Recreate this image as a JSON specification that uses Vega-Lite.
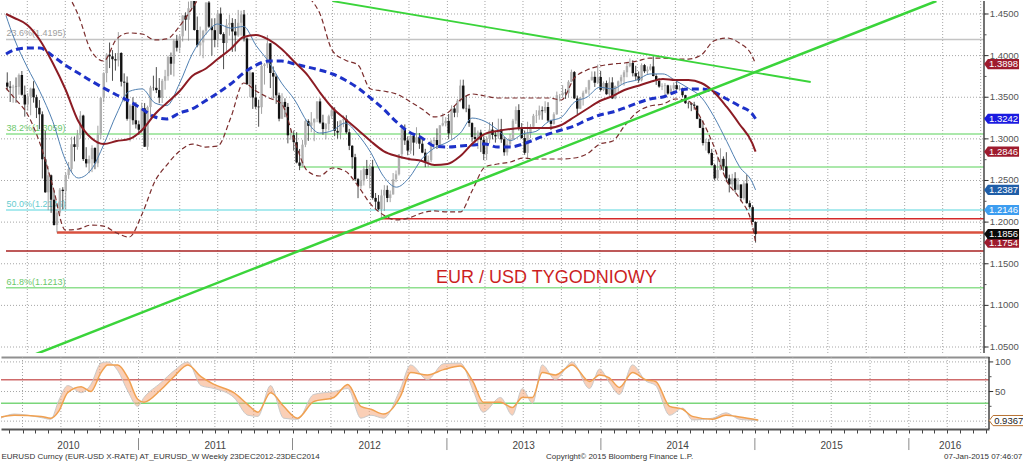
{
"$schema":"https://vega.github.io/schema/vega-lite/v6.json",
"padding":0,"background":"white","spacing":2,
"config":{"view":{"stroke":null},"font":"Liberation Sans"},
"datasets":{
"ygrid":[{"v":1.05,"t":"1.0500"},{"v":1.1,"t":"1.1000"},{"v":1.15,"t":"1.1500"},{"v":1.2,"t":"1.2000"},{"v":1.25,"t":"1.2500"},{"v":1.3,"t":"1.3000"},{"v":1.35,"t":"1.3500"},{"v":1.4,"t":"1.4000"},{"v":1.45,"t":"1.4500"}],
"yminor":[{"v":1.075},{"v":1.125},{"v":1.175},{"v":1.225},{"v":1.275},{"v":1.325},{"v":1.375},{"v":1.425}],
"xgrid":[{"d":"2010-04-01"},{"d":"2010-07-01"},{"d":"2010-10-01"},{"d":"2011-01-01"},{"d":"2011-04-01"},{"d":"2011-07-01"},{"d":"2011-10-01"},{"d":"2012-01-01"},{"d":"2012-04-01"},{"d":"2012-07-01"},{"d":"2012-10-01"},{"d":"2013-01-01"},{"d":"2013-04-01"},{"d":"2013-07-01"},{"d":"2013-10-01"},{"d":"2014-01-01"},{"d":"2014-04-01"},{"d":"2014-07-01"},{"d":"2014-10-01"},{"d":"2015-01-01"},{"d":"2015-04-01"},{"d":"2015-07-01"},{"d":"2015-10-01"},{"d":"2016-01-01"},{"d":"2016-04-01"},{"d":"2016-07-01"}],
"axisEnd":[{"d":"2016-07-09"}],
"sgrid":[{"v":0},{"v":50},{"v":100}],
"slab":[{"v":50,"t":"50"},{"v":100,"t":"100"}],
"sminor":[{"v":25},{"v":75}],
"levels":[
{"lv":"fib236","p":1.4195,"d":"2010-02-09","d2":"2016-07-09"},
{"lv":"fib382","p":1.3059,"d":"2010-02-09","d2":"2016-07-09"},
{"lv":"g1266","p":1.2662,"d":"2012-01-13","d2":"2016-07-09"},
{"lv":"fib500","p":1.2146,"d":"2010-02-09","d2":"2016-07-09"},
{"lv":"low2012","p":1.2042,"d":"2012-07-27","d2":"2016-07-09"},
{"lv":"low2010","p":1.1876,"d":"2010-06-11","d2":"2016-07-09"},
{"lv":"r1165","p":1.1653,"d":"2010-02-09","d2":"2016-07-09"},
{"lv":"fib618","p":1.1213,"d":"2010-02-09","d2":"2016-07-09"}],
"fibtxt":[
{"t":"23.6%(1.4195)","p":1.4195,"lv":"fib236","d":"2010-02-10"},
{"t":"38.2%(1.3059)","p":1.3059,"lv":"fib382","d":"2010-02-10"},
{"t":"50.0%(1.2146)","p":1.2146,"lv":"fib500","d":"2010-02-10"},
{"t":"61.8%(1.1213)","p":1.1213,"lv":"fib618","d":"2010-02-10"}],
"px":[
{"d":"2010-02-12","o":1.3676,"h":1.3799,"l":1.3580,"c":1.3627},
{"d":"2010-02-19","o":1.3627,"h":1.3694,"l":1.3443,"c":1.3617},
{"d":"2010-02-26","o":1.3617,"h":1.3650,"l":1.3434,"c":1.3627},
{"d":"2010-03-05","o":1.3627,"h":1.3738,"l":1.3434,"c":1.3625},
{"d":"2010-03-12","o":1.3625,"h":1.3785,"l":1.3530,"c":1.3767},
{"d":"2010-03-19","o":1.3767,"h":1.3815,"l":1.3520,"c":1.3530},
{"d":"2010-03-26","o":1.3530,"h":1.3640,"l":1.3267,"c":1.3413},
{"d":"2010-04-02","o":1.3413,"h":1.3550,"l":1.3338,"c":1.3509},
{"d":"2010-04-09","o":1.3509,"h":1.3615,"l":1.3283,"c":1.3605},
{"d":"2010-04-16","o":1.3605,"h":1.3693,"l":1.3435,"c":1.3500},
{"d":"2010-04-23","o":1.3500,"h":1.3530,"l":1.3250,"c":1.3373},
{"d":"2010-04-30","o":1.3373,"h":1.3466,"l":1.3116,"c":1.3295},
{"d":"2010-05-07","o":1.3295,"h":1.3330,"l":1.2524,"c":1.2755},
{"d":"2010-05-14","o":1.2755,"h":1.3094,"l":1.2352,"c":1.2358},
{"d":"2010-05-21","o":1.2358,"h":1.2674,"l":1.2143,"c":1.2563},
{"d":"2010-05-28","o":1.2563,"h":1.2572,"l":1.2111,"c":1.2269},
{"d":"2010-06-04","o":1.2269,"h":1.2383,"l":1.1959,"c":1.1965},
{"d":"2010-06-11","o":1.1965,"h":1.2153,"l":1.1876,"c":1.2114},
{"d":"2010-06-18","o":1.2114,"h":1.2410,"l":1.2089,"c":1.2389},
{"d":"2010-06-25","o":1.2389,"h":1.2420,"l":1.2152,"c":1.2373},
{"d":"2010-07-02","o":1.2373,"h":1.2594,"l":1.2150,"c":1.2565},
{"d":"2010-07-09","o":1.2565,"h":1.2722,"l":1.2520,"c":1.2639},
{"d":"2010-07-16","o":1.2639,"h":1.3026,"l":1.2596,"c":1.2935},
{"d":"2010-07-23","o":1.2935,"h":1.3028,"l":1.2730,"c":1.2903},
{"d":"2010-07-30","o":1.2903,"h":1.3108,"l":1.2870,"c":1.3045},
{"d":"2010-08-06","o":1.3045,"h":1.3333,"l":1.3002,"c":1.3280},
{"d":"2010-08-13","o":1.3280,"h":1.3290,"l":1.2734,"c":1.2757},
{"d":"2010-08-20","o":1.2757,"h":1.2900,"l":1.2658,"c":1.2705},
{"d":"2010-08-27","o":1.2705,"h":1.2800,"l":1.2588,"c":1.2757},
{"d":"2010-09-03","o":1.2757,"h":1.2923,"l":1.2600,"c":1.2890},
{"d":"2010-09-10","o":1.2890,"h":1.2900,"l":1.2635,"c":1.2707},
{"d":"2010-09-17","o":1.2707,"h":1.3158,"l":1.2660,"c":1.3052},
{"d":"2010-09-24","o":1.3052,"h":1.3500,"l":1.3000,"c":1.3493},
{"d":"2010-10-01","o":1.3493,"h":1.3800,"l":1.3440,"c":1.3790},
{"d":"2010-10-08","o":1.3790,"h":1.4030,"l":1.3680,"c":1.4012},
{"d":"2010-10-15","o":1.4012,"h":1.4157,"l":1.3850,"c":1.3991},
{"d":"2010-10-22","o":1.3991,"h":1.4066,"l":1.3697,"c":1.3957},
{"d":"2010-10-29","o":1.3957,"h":1.4030,"l":1.3820,"c":1.3942},
{"d":"2010-11-05","o":1.3942,"h":1.4282,"l":1.3870,"c":1.4032},
{"d":"2010-11-12","o":1.4032,"h":1.4040,"l":1.3630,"c":1.3687},
{"d":"2010-11-19","o":1.3687,"h":1.3787,"l":1.3449,"c":1.3675},
{"d":"2010-11-26","o":1.3675,"h":1.3750,"l":1.3219,"c":1.3241},
{"d":"2010-12-03","o":1.3241,"h":1.3415,"l":1.2969,"c":1.3399},
{"d":"2010-12-10","o":1.3399,"h":1.3500,"l":1.3170,"c":1.3224},
{"d":"2010-12-17","o":1.3224,"h":1.3440,"l":1.3124,"c":1.3175},
{"d":"2010-12-24","o":1.3175,"h":1.3220,"l":1.3050,"c":1.3110},
{"d":"2010-12-31","o":1.3110,"h":1.3435,"l":1.3066,"c":1.3367},
{"d":"2011-01-07","o":1.3367,"h":1.3430,"l":1.2903,"c":1.2906},
{"d":"2011-01-14","o":1.2906,"h":1.3399,"l":1.2867,"c":1.3382},
{"d":"2011-01-21","o":1.3382,"h":1.3638,"l":1.3255,"c":1.3615},
{"d":"2011-01-28","o":1.3615,"h":1.3759,"l":1.3580,"c":1.3613},
{"d":"2011-02-04","o":1.3613,"h":1.3862,"l":1.3550,"c":1.3586},
{"d":"2011-02-11","o":1.3586,"h":1.3730,"l":1.3428,"c":1.3495},
{"d":"2011-02-18","o":1.3495,"h":1.3720,"l":1.3431,"c":1.3697},
{"d":"2011-02-25","o":1.3697,"h":1.3829,"l":1.3590,"c":1.3753},
{"d":"2011-03-04","o":1.3753,"h":1.4000,"l":1.3700,"c":1.3983},
{"d":"2011-03-11","o":1.3983,"h":1.4037,"l":1.3770,"c":1.3903},
{"d":"2011-03-18","o":1.3903,"h":1.4194,"l":1.3750,"c":1.4180},
{"d":"2011-03-25","o":1.4180,"h":1.4249,"l":1.4050,"c":1.4095},
{"d":"2011-04-01","o":1.4095,"h":1.4250,"l":1.4036,"c":1.4232},
{"d":"2011-04-08","o":1.4232,"h":1.4486,"l":1.4170,"c":1.4482},
{"d":"2011-04-15","o":1.4482,"h":1.4520,"l":1.4300,"c":1.4431},
{"d":"2011-04-22","o":1.4431,"h":1.4649,"l":1.4180,"c":1.4569},
{"d":"2011-04-29","o":1.4569,"h":1.4880,"l":1.4540,"c":1.4807},
{"d":"2011-05-06","o":1.4807,"h":1.4940,"l":1.4300,"c":1.4308},
{"d":"2011-05-13","o":1.4308,"h":1.4470,"l":1.4100,"c":1.4123},
{"d":"2011-05-20","o":1.4123,"h":1.4349,"l":1.4000,"c":1.4159},
{"d":"2011-05-27","o":1.4159,"h":1.4310,"l":1.3968,"c":1.4298},
{"d":"2011-06-03","o":1.4298,"h":1.4640,"l":1.4250,"c":1.4638},
{"d":"2011-06-10","o":1.4638,"h":1.4700,"l":1.4331,"c":1.4347},
{"d":"2011-06-17","o":1.4347,"h":1.4447,"l":1.4000,"c":1.4306},
{"d":"2011-06-24","o":1.4306,"h":1.4449,"l":1.4100,"c":1.4189},
{"d":"2011-07-01","o":1.4189,"h":1.4540,"l":1.4100,"c":1.4505},
{"d":"2011-07-08","o":1.4505,"h":1.4578,"l":1.4250,"c":1.4259},
{"d":"2011-07-15","o":1.4259,"h":1.4280,"l":1.3837,"c":1.4151},
{"d":"2011-07-22","o":1.4151,"h":1.4440,"l":1.4030,"c":1.4370},
{"d":"2011-07-29","o":1.4370,"h":1.4490,"l":1.4240,"c":1.4393},
{"d":"2011-08-05","o":1.4393,"h":1.4450,"l":1.4045,"c":1.4290},
{"d":"2011-08-12","o":1.4290,"h":1.4440,"l":1.4050,"c":1.4243},
{"d":"2011-08-19","o":1.4243,"h":1.4549,"l":1.4225,"c":1.4395},
{"d":"2011-08-26","o":1.4395,"h":1.4540,"l":1.4240,"c":1.4495},
{"d":"2011-09-02","o":1.4495,"h":1.4548,"l":1.4170,"c":1.4206},
{"d":"2011-09-09","o":1.4206,"h":1.4220,"l":1.3653,"c":1.3654},
{"d":"2011-09-16","o":1.3654,"h":1.3850,"l":1.3500,"c":1.3797},
{"d":"2011-09-23","o":1.3797,"h":1.3800,"l":1.3360,"c":1.3497},
{"d":"2011-09-30","o":1.3497,"h":1.3650,"l":1.3360,"c":1.3387},
{"d":"2011-10-07","o":1.3387,"h":1.3470,"l":1.3146,"c":1.3380},
{"d":"2011-10-14","o":1.3380,"h":1.3915,"l":1.3300,"c":1.3876},
{"d":"2011-10-21","o":1.3876,"h":1.3910,"l":1.3652,"c":1.3895},
{"d":"2011-10-28","o":1.3895,"h":1.4247,"l":1.3850,"c":1.4148},
{"d":"2011-11-04","o":1.4148,"h":1.4150,"l":1.3610,"c":1.3791},
{"d":"2011-11-11","o":1.3791,"h":1.3870,"l":1.3485,"c":1.3748},
{"d":"2011-11-18","o":1.3748,"h":1.3780,"l":1.3420,"c":1.3523},
{"d":"2011-11-25","o":1.3523,"h":1.3555,"l":1.3211,"c":1.3242},
{"d":"2011-12-02","o":1.3242,"h":1.3548,"l":1.3240,"c":1.3444},
{"d":"2011-12-09","o":1.3444,"h":1.3487,"l":1.3260,"c":1.3384},
{"d":"2011-12-16","o":1.3384,"h":1.3430,"l":1.2946,"c":1.3043},
{"d":"2011-12-23","o":1.3043,"h":1.3120,"l":1.2990,"c":1.3045},
{"d":"2011-12-30","o":1.3045,"h":1.3100,"l":1.2858,"c":1.2961},
{"d":"2012-01-06","o":1.2961,"h":1.3080,"l":1.2705,"c":1.2716},
{"d":"2012-01-13","o":1.2716,"h":1.2879,"l":1.2624,"c":1.2677},
{"d":"2012-01-20","o":1.2677,"h":1.2988,"l":1.2664,"c":1.2930},
{"d":"2012-01-27","o":1.2930,"h":1.3234,"l":1.2901,"c":1.3214},
{"d":"2012-02-03","o":1.3214,"h":1.3235,"l":1.2976,"c":1.3157},
{"d":"2012-02-10","o":1.3157,"h":1.3322,"l":1.3080,"c":1.3197},
{"d":"2012-02-17","o":1.3197,"h":1.3245,"l":1.2972,"c":1.3242},
{"d":"2012-02-24","o":1.3242,"h":1.3450,"l":1.3200,"c":1.3450},
{"d":"2012-03-02","o":1.3450,"h":1.3486,"l":1.3180,"c":1.3196},
{"d":"2012-03-09","o":1.3196,"h":1.3290,"l":1.3050,"c":1.3118},
{"d":"2012-03-16","o":1.3118,"h":1.3190,"l":1.2995,"c":1.3180},
{"d":"2012-03-23","o":1.3180,"h":1.3290,"l":1.3100,"c":1.3272},
{"d":"2012-03-30","o":1.3272,"h":1.3385,"l":1.3240,"c":1.3343},
{"d":"2012-04-06","o":1.3343,"h":1.3380,"l":1.3033,"c":1.3096},
{"d":"2012-04-13","o":1.3096,"h":1.3212,"l":1.3003,"c":1.3075},
{"d":"2012-04-20","o":1.3075,"h":1.3220,"l":1.3000,"c":1.3222},
{"d":"2012-04-27","o":1.3222,"h":1.3282,"l":1.3140,"c":1.3237},
{"d":"2012-05-04","o":1.3237,"h":1.3284,"l":1.3060,"c":1.3079},
{"d":"2012-05-11","o":1.3079,"h":1.3120,"l":1.2865,"c":1.2917},
{"d":"2012-05-18","o":1.2917,"h":1.2925,"l":1.2640,"c":1.2780},
{"d":"2012-05-25","o":1.2780,"h":1.2820,"l":1.2495,"c":1.2516},
{"d":"2012-06-01","o":1.2516,"h":1.2530,"l":1.2288,"c":1.2433},
{"d":"2012-06-08","o":1.2433,"h":1.2624,"l":1.2400,"c":1.2493},
{"d":"2012-06-15","o":1.2493,"h":1.2672,"l":1.2440,"c":1.2639},
{"d":"2012-06-22","o":1.2639,"h":1.2747,"l":1.2520,"c":1.2565},
{"d":"2012-06-29","o":1.2565,"h":1.2692,"l":1.2406,"c":1.2667},
{"d":"2012-07-06","o":1.2667,"h":1.2748,"l":1.2270,"c":1.2291},
{"d":"2012-07-13","o":1.2291,"h":1.2350,"l":1.2160,"c":1.2246},
{"d":"2012-07-20","o":1.2246,"h":1.2325,"l":1.2145,"c":1.2156},
{"d":"2012-07-27","o":1.2156,"h":1.2390,"l":1.2042,"c":1.2320},
{"d":"2012-08-03","o":1.2320,"h":1.2444,"l":1.2133,"c":1.2387},
{"d":"2012-08-10","o":1.2387,"h":1.2440,"l":1.2240,"c":1.2290},
{"d":"2012-08-17","o":1.2290,"h":1.2380,"l":1.2240,"c":1.2333},
{"d":"2012-08-24","o":1.2333,"h":1.2590,"l":1.2330,"c":1.2515},
{"d":"2012-08-31","o":1.2515,"h":1.2620,"l":1.2480,"c":1.2575},
{"d":"2012-09-07","o":1.2575,"h":1.2817,"l":1.2560,"c":1.2816},
{"d":"2012-09-14","o":1.2816,"h":1.3170,"l":1.2760,"c":1.3125},
{"d":"2012-09-21","o":1.3125,"h":1.3173,"l":1.2927,"c":1.2981},
{"d":"2012-09-28","o":1.2981,"h":1.3030,"l":1.2803,"c":1.2859},
{"d":"2012-10-05","o":1.2859,"h":1.3057,"l":1.2820,"c":1.3036},
{"d":"2012-10-12","o":1.3036,"h":1.3060,"l":1.2800,"c":1.2955},
{"d":"2012-10-19","o":1.2955,"h":1.3140,"l":1.2940,"c":1.3020},
{"d":"2012-10-26","o":1.3020,"h":1.3070,"l":1.2880,"c":1.2942},
{"d":"2012-11-02","o":1.2942,"h":1.3000,"l":1.2828,"c":1.2835},
{"d":"2012-11-09","o":1.2835,"h":1.2880,"l":1.2660,"c":1.2711},
{"d":"2012-11-16","o":1.2711,"h":1.2800,"l":1.2661,"c":1.2744},
{"d":"2012-11-23","o":1.2744,"h":1.2990,"l":1.2720,"c":1.2973},
{"d":"2012-11-30","o":1.2973,"h":1.3020,"l":1.2880,"c":1.2986},
{"d":"2012-12-07","o":1.2986,"h":1.3126,"l":1.2878,"c":1.2925},
{"d":"2012-12-14","o":1.2925,"h":1.3166,"l":1.2920,"c":1.3162},
{"d":"2012-12-21","o":1.3162,"h":1.3308,"l":1.3150,"c":1.3188},
{"d":"2012-12-28","o":1.3188,"h":1.3260,"l":1.3150,"c":1.3216},
{"d":"2013-01-04","o":1.3216,"h":1.3299,"l":1.3000,"c":1.3066},
{"d":"2013-01-11","o":1.3066,"h":1.3403,"l":1.3000,"c":1.3365},
{"d":"2013-01-18","o":1.3365,"h":1.3403,"l":1.3260,"c":1.3314},
{"d":"2013-01-25","o":1.3314,"h":1.3480,"l":1.3260,"c":1.3458},
{"d":"2013-02-01","o":1.3458,"h":1.3711,"l":1.3440,"c":1.3640},
{"d":"2013-02-08","o":1.3640,"h":1.3711,"l":1.3355,"c":1.3365},
{"d":"2013-02-15","o":1.3365,"h":1.3520,"l":1.3320,"c":1.3363},
{"d":"2013-02-22","o":1.3363,"h":1.3410,"l":1.3145,"c":1.3190},
{"d":"2013-03-01","o":1.3190,"h":1.3200,"l":1.2965,"c":1.3022},
{"d":"2013-03-08","o":1.3022,"h":1.3140,"l":1.2955,"c":1.2999},
{"d":"2013-03-15","o":1.2999,"h":1.3100,"l":1.2880,"c":1.3076},
{"d":"2013-03-22","o":1.3076,"h":1.3110,"l":1.2841,"c":1.2988},
{"d":"2013-03-29","o":1.2988,"h":1.3030,"l":1.2745,"c":1.2819},
{"d":"2013-04-05","o":1.2819,"h":1.3030,"l":1.2745,"c":1.2997},
{"d":"2013-04-12","o":1.2997,"h":1.3200,"l":1.2950,"c":1.3111},
{"d":"2013-04-19","o":1.3111,"h":1.3200,"l":1.2994,"c":1.3048},
{"d":"2013-04-26","o":1.3048,"h":1.3100,"l":1.2955,"c":1.3030},
{"d":"2013-05-03","o":1.3030,"h":1.3243,"l":1.3000,"c":1.3114},
{"d":"2013-05-10","o":1.3114,"h":1.3240,"l":1.2952,"c":1.2995},
{"d":"2013-05-17","o":1.2995,"h":1.3025,"l":1.2797,"c":1.2839},
{"d":"2013-05-24","o":1.2839,"h":1.2990,"l":1.2800,"c":1.2935},
{"d":"2013-05-31","o":1.2935,"h":1.3060,"l":1.2900,"c":1.2998},
{"d":"2013-06-07","o":1.2998,"h":1.3240,"l":1.2990,"c":1.3219},
{"d":"2013-06-14","o":1.3219,"h":1.3390,"l":1.3180,"c":1.3346},
{"d":"2013-06-21","o":1.3346,"h":1.3416,"l":1.3100,"c":1.3120},
{"d":"2013-06-28","o":1.3120,"h":1.3190,"l":1.3000,"c":1.3010},
{"d":"2013-07-05","o":1.3010,"h":1.3100,"l":1.2808,"c":1.2832},
{"d":"2013-07-12","o":1.2832,"h":1.3206,"l":1.2755,"c":1.3066},
{"d":"2013-07-19","o":1.3066,"h":1.3177,"l":1.3010,"c":1.3146},
{"d":"2013-07-26","o":1.3146,"h":1.3300,"l":1.3130,"c":1.3277},
{"d":"2013-08-02","o":1.3277,"h":1.3345,"l":1.3190,"c":1.3282},
{"d":"2013-08-09","o":1.3282,"h":1.3400,"l":1.3230,"c":1.3342},
{"d":"2013-08-16","o":1.3342,"h":1.3390,"l":1.3230,"c":1.3333},
{"d":"2013-08-23","o":1.3333,"h":1.3452,"l":1.3310,"c":1.3383},
{"d":"2013-08-30","o":1.3383,"h":1.3440,"l":1.3200,"c":1.3220},
{"d":"2013-09-06","o":1.3220,"h":1.3230,"l":1.3105,"c":1.3180},
{"d":"2013-09-13","o":1.3180,"h":1.3320,"l":1.3170,"c":1.3295},
{"d":"2013-09-20","o":1.3295,"h":1.3568,"l":1.3290,"c":1.3524},
{"d":"2013-09-27","o":1.3524,"h":1.3540,"l":1.3450,"c":1.3525},
{"d":"2013-10-04","o":1.3525,"h":1.3646,"l":1.3500,"c":1.3555},
{"d":"2013-10-11","o":1.3555,"h":1.3600,"l":1.3480,"c":1.3548},
{"d":"2013-10-18","o":1.3548,"h":1.3705,"l":1.3497,"c":1.3686},
{"d":"2013-10-25","o":1.3686,"h":1.3832,"l":1.3680,"c":1.3802},
{"d":"2013-11-01","o":1.3802,"h":1.3815,"l":1.3480,"c":1.3486},
{"d":"2013-11-08","o":1.3486,"h":1.3520,"l":1.3296,"c":1.3363},
{"d":"2013-11-15","o":1.3363,"h":1.3500,"l":1.3360,"c":1.3497},
{"d":"2013-11-22","o":1.3497,"h":1.3579,"l":1.3400,"c":1.3555},
{"d":"2013-11-29","o":1.3555,"h":1.3621,"l":1.3540,"c":1.3591},
{"d":"2013-12-06","o":1.3591,"h":1.3710,"l":1.3530,"c":1.3704},
{"d":"2013-12-13","o":1.3704,"h":1.3810,"l":1.3700,"c":1.3745},
{"d":"2013-12-20","o":1.3745,"h":1.3810,"l":1.3624,"c":1.3674},
{"d":"2013-12-27","o":1.3674,"h":1.3893,"l":1.3660,"c":1.3743},
{"d":"2014-01-03","o":1.3743,"h":1.3815,"l":1.3570,"c":1.3588},
{"d":"2014-01-10","o":1.3588,"h":1.3690,"l":1.3572,"c":1.3670},
{"d":"2014-01-17","o":1.3670,"h":1.3700,"l":1.3530,"c":1.3536},
{"d":"2014-01-24","o":1.3536,"h":1.3740,"l":1.3510,"c":1.3678},
{"d":"2014-01-31","o":1.3678,"h":1.3740,"l":1.3478,"c":1.3486},
{"d":"2014-02-07","o":1.3486,"h":1.3640,"l":1.3476,"c":1.3634},
{"d":"2014-02-14","o":1.3634,"h":1.3700,"l":1.3560,"c":1.3691},
{"d":"2014-02-21","o":1.3691,"h":1.3770,"l":1.3650,"c":1.3741},
{"d":"2014-02-28","o":1.3741,"h":1.3825,"l":1.3640,"c":1.3800},
{"d":"2014-03-07","o":1.3800,"h":1.3916,"l":1.3740,"c":1.3874},
{"d":"2014-03-14","o":1.3874,"h":1.3967,"l":1.3860,"c":1.3911},
{"d":"2014-03-21","o":1.3911,"h":1.3945,"l":1.3750,"c":1.3789},
{"d":"2014-03-28","o":1.3789,"h":1.3878,"l":1.3705,"c":1.3750},
{"d":"2014-04-04","o":1.3750,"h":1.3810,"l":1.3673,"c":1.3703},
{"d":"2014-04-11","o":1.3703,"h":1.3907,"l":1.3690,"c":1.3886},
{"d":"2014-04-18","o":1.3886,"h":1.3900,"l":1.3790,"c":1.3812},
{"d":"2014-04-25","o":1.3812,"h":1.3870,"l":1.3780,"c":1.3832},
{"d":"2014-05-02","o":1.3832,"h":1.3900,"l":1.3820,"c":1.3870},
{"d":"2014-05-09","o":1.3870,"h":1.3993,"l":1.3750,"c":1.3755},
{"d":"2014-05-16","o":1.3755,"h":1.3780,"l":1.3648,"c":1.3696},
{"d":"2014-05-23","o":1.3696,"h":1.3730,"l":1.3614,"c":1.3628},
{"d":"2014-05-30","o":1.3628,"h":1.3668,"l":1.3586,"c":1.3635},
{"d":"2014-06-06","o":1.3635,"h":1.3670,"l":1.3503,"c":1.3643},
{"d":"2014-06-13","o":1.3643,"h":1.3650,"l":1.3530,"c":1.3544},
{"d":"2014-06-20","o":1.3544,"h":1.3644,"l":1.3530,"c":1.3604},
{"d":"2014-06-27","o":1.3604,"h":1.3678,"l":1.3580,"c":1.3645},
{"d":"2014-07-04","o":1.3645,"h":1.3700,"l":1.3590,"c":1.3596},
{"d":"2014-07-11","o":1.3596,"h":1.3645,"l":1.3580,"c":1.3606},
{"d":"2014-07-18","o":1.3606,"h":1.3615,"l":1.3500,"c":1.3525},
{"d":"2014-07-25","o":1.3525,"h":1.3530,"l":1.3420,"c":1.3429},
{"d":"2014-08-01","o":1.3429,"h":1.3445,"l":1.3366,"c":1.3426},
{"d":"2014-08-08","o":1.3426,"h":1.3434,"l":1.3333,"c":1.3412},
{"d":"2014-08-15","o":1.3412,"h":1.3445,"l":1.3350,"c":1.3398},
{"d":"2014-08-22","o":1.3398,"h":1.3400,"l":1.3236,"c":1.3241},
{"d":"2014-08-29","o":1.3241,"h":1.3250,"l":1.3130,"c":1.3132},
{"d":"2014-09-05","o":1.3132,"h":1.3220,"l":1.2920,"c":1.2950},
{"d":"2014-09-12","o":1.2950,"h":1.3000,"l":1.2860,"c":1.2963},
{"d":"2014-09-19","o":1.2963,"h":1.3000,"l":1.2815,"c":1.2831},
{"d":"2014-09-26","o":1.2831,"h":1.2880,"l":1.2680,"c":1.2684},
{"d":"2014-10-03","o":1.2684,"h":1.2700,"l":1.2500,"c":1.2526},
{"d":"2014-10-10","o":1.2526,"h":1.2790,"l":1.2500,"c":1.2627},
{"d":"2014-10-17","o":1.2627,"h":1.2887,"l":1.2620,"c":1.2760},
{"d":"2014-10-24","o":1.2760,"h":1.2790,"l":1.2612,"c":1.2669},
{"d":"2014-10-31","o":1.2669,"h":1.2840,"l":1.2480,"c":1.2525},
{"d":"2014-11-07","o":1.2525,"h":1.2570,"l":1.2357,"c":1.2453},
{"d":"2014-11-14","o":1.2453,"h":1.2580,"l":1.2400,"c":1.2526},
{"d":"2014-11-21","o":1.2526,"h":1.2600,"l":1.2358,"c":1.2389},
{"d":"2014-11-28","o":1.2389,"h":1.2530,"l":1.2385,"c":1.2452},
{"d":"2014-12-05","o":1.2452,"h":1.2455,"l":1.2250,"c":1.2288},
{"d":"2014-12-12","o":1.2288,"h":1.2500,"l":1.2270,"c":1.2465},
{"d":"2014-12-19","o":1.2465,"h":1.2570,"l":1.2220,"c":1.2228},
{"d":"2014-12-26","o":1.2228,"h":1.2260,"l":1.2160,"c":1.2180},
{"d":"2015-01-02","o":1.2180,"h":1.2200,"l":1.2000,"c":1.2001},
{"d":"2015-01-09","o":1.2001,"h":1.2010,"l":1.1754,"c":1.1856}],
"ind":[
{"d":"2010-02-09","f":1.448,"m":1.4500,"s":1.4020,"u":1.560,"l":1.3611},
{"d":"2010-03-01","f":1.420,"m":1.4452,"s":1.4068,"u":1.545,"l":1.3491},
{"d":"2010-04-01","f":1.386,"m":1.4368,"s":1.4092,"u":1.530,"l":1.3299},
{"d":"2010-05-01","f":1.357,"m":1.4188,"s":1.4092,"u":1.512,"l":1.2950},
{"d":"2010-06-01","f":1.321,"m":1.3911,"s":1.3995,"u":1.495,"l":1.2434},
{"d":"2010-07-01","f":1.275,"m":1.3599,"s":1.3887,"u":1.478,"l":1.1905},
{"d":"2010-08-01","f":1.253,"m":1.3215,"s":1.3791,"u":1.4488,"l":1.1917},
{"d":"2010-09-01","f":1.263,"m":1.3010,"s":1.3695,"u":1.4056,"l":1.1965},
{"d":"2010-10-01","f":1.293,"m":1.2938,"s":1.3611,"u":1.3935,"l":1.1953},
{"d":"2010-11-01","f":1.330,"m":1.2974,"s":1.3527,"u":1.4200,"l":1.1869},
{"d":"2010-12-01","f":1.357,"m":1.2998,"s":1.3455,"u":1.4272,"l":1.1821},
{"d":"2011-01-01","f":1.360,"m":1.3107,"s":1.3359,"u":1.4260,"l":1.2098},
{"d":"2011-02-01","f":1.343,"m":1.3299,"s":1.3263,"u":1.4188,"l":1.2494},
{"d":"2011-03-01","f":1.340,"m":1.3431,"s":1.3239,"u":1.4200,"l":1.2686},
{"d":"2011-04-01","f":1.367,"m":1.3575,"s":1.3311,"u":1.4356,"l":1.2854},
{"d":"2011-05-01","f":1.402,"m":1.3755,"s":1.3359,"u":1.457,"l":1.2938},
{"d":"2011-06-01","f":1.425,"m":1.3839,"s":1.3455,"u":1.480,"l":1.2902},
{"d":"2011-07-01","f":1.438,"m":1.3959,"s":1.3551,"u":1.495,"l":1.2914},
{"d":"2011-08-01","f":1.433,"m":1.4080,"s":1.3659,"u":1.500,"l":1.3251},
{"d":"2011-09-01","f":1.435,"m":1.4224,"s":1.3791,"u":1.505,"l":1.3671},
{"d":"2011-10-01","f":1.412,"m":1.4248,"s":1.3887,"u":1.510,"l":1.3575},
{"d":"2011-11-01","f":1.392,"m":1.4188,"s":1.3935,"u":1.508,"l":1.3491},
{"d":"2011-12-01","f":1.367,"m":1.4080,"s":1.3935,"u":1.500,"l":1.3419},
{"d":"2012-01-01","f":1.347,"m":1.3923,"s":1.3899,"u":1.488,"l":1.2974},
{"d":"2012-02-01","f":1.320,"m":1.3767,"s":1.3863,"u":1.472,"l":1.2614},
{"d":"2012-03-01","f":1.307,"m":1.3563,"s":1.3827,"u":1.4512,"l":1.2554},
{"d":"2012-04-01","f":1.310,"m":1.3371,"s":1.3779,"u":1.4056,"l":1.2650},
{"d":"2012-05-01","f":1.319,"m":1.3239,"s":1.3707,"u":1.3947,"l":1.2614},
{"d":"2012-06-01","f":1.305,"m":1.3107,"s":1.3611,"u":1.3887,"l":1.2434},
{"d":"2012-07-01","f":1.284,"m":1.2974,"s":1.3491,"u":1.3599,"l":1.2218},
{"d":"2012-08-01","f":1.255,"m":1.2854,"s":1.3359,"u":1.3575,"l":1.2086},
{"d":"2012-09-01","f":1.242,"m":1.2794,"s":1.3203,"u":1.3539,"l":1.2026},
{"d":"2012-10-01","f":1.253,"m":1.2758,"s":1.3083,"u":1.3455,"l":1.2050},
{"d":"2012-11-01","f":1.276,"m":1.2734,"s":1.3011,"u":1.3359,"l":1.2110},
{"d":"2012-12-01","f":1.289,"m":1.2686,"s":1.2914,"u":1.3263,"l":1.2134},
{"d":"2013-01-01","f":1.296,"m":1.2698,"s":1.2902,"u":1.3311,"l":1.2122},
{"d":"2013-02-01","f":1.307,"m":1.2794,"s":1.2914,"u":1.3467,"l":1.2122},
{"d":"2013-03-01","f":1.325,"m":1.2938,"s":1.2926,"u":1.3539,"l":1.2374},
{"d":"2013-04-01","f":1.321,"m":1.3059,"s":1.2938,"u":1.3515,"l":1.2662},
{"d":"2013-05-01","f":1.311,"m":1.3095,"s":1.2902,"u":1.3491,"l":1.2698},
{"d":"2013-06-01","f":1.298,"m":1.3119,"s":1.2902,"u":1.3491,"l":1.2722},
{"d":"2013-07-01","f":1.306,"m":1.3131,"s":1.2938,"u":1.3491,"l":1.2770},
{"d":"2013-08-01","f":1.309,"m":1.3131,"s":1.2998,"u":1.3491,"l":1.2758},
{"d":"2013-09-01","f":1.321,"m":1.3131,"s":1.3059,"u":1.3491,"l":1.2758},
{"d":"2013-10-01","f":1.326,"m":1.3167,"s":1.3107,"u":1.3467,"l":1.2758},
{"d":"2013-11-01","f":1.344,"m":1.3263,"s":1.3155,"u":1.3731,"l":1.2770},
{"d":"2013-12-01","f":1.350,"m":1.3359,"s":1.3227,"u":1.3827,"l":1.2818},
{"d":"2014-01-01","f":1.362,"m":1.3455,"s":1.3287,"u":1.3875,"l":1.2938},
{"d":"2014-02-01","f":1.360,"m":1.3515,"s":1.3323,"u":1.3899,"l":1.2974},
{"d":"2014-03-01","f":1.367,"m":1.3587,"s":1.3371,"u":1.3911,"l":1.3155},
{"d":"2014-04-01","f":1.371,"m":1.3635,"s":1.3431,"u":1.3935,"l":1.3323},
{"d":"2014-05-01","f":1.378,"m":1.3683,"s":1.3479,"u":1.3971,"l":1.3395},
{"d":"2014-06-01","f":1.378,"m":1.3719,"s":1.3503,"u":1.3971,"l":1.3419},
{"d":"2014-07-01","f":1.370,"m":1.3707,"s":1.3563,"u":1.3959,"l":1.3479},
{"d":"2014-08-01","f":1.361,"m":1.3707,"s":1.3599,"u":1.3959,"l":1.3455},
{"d":"2014-09-01","f":1.350,"m":1.3671,"s":1.3599,"u":1.4008,"l":1.3239},
{"d":"2014-10-01","f":1.327,"m":1.3563,"s":1.3563,"u":1.4176,"l":1.2914},
{"d":"2014-11-01","f":1.297,"m":1.3383,"s":1.3479,"u":1.4212,"l":1.2494},
{"d":"2014-12-01","f":1.267,"m":1.3179,"s":1.3395,"u":1.4152,"l":1.2290},
{"d":"2015-01-01","f":1.248,"m":1.2950,"s":1.3299,"u":1.3995,"l":1.1965},
{"d":"2015-01-09","f":1.2387,"m":1.2846,"s":1.3242,"u":1.3898,"l":1.1754}],
"trend":[
{"id":"up","d":"2010-04-16","p":1.0404},
{"id":"up","d":"2016-03-17","p":1.4656},
{"id":"down","d":"2012-04-01","p":1.4656},
{"id":"down","d":"2015-05-21","p":1.3683}],
"title":[{"t":"EUR / USD TYGODNIOWY","d":"2013-08-26","p":1.1329}],
"tags":[
{"k":"u","t":"1.3898","v":1.3898,"d":"2016-08-20"},
{"k":"s","t":"1.3242","v":1.3242,"d":"2016-08-20"},
{"k":"m","t":"1.2846","v":1.2846,"d":"2016-08-20"},
{"k":"f","t":"1.2387","v":1.2387,"d":"2016-08-20"},
{"k":"fib","t":"1.2146","v":1.2146,"d":"2016-08-20"},
{"k":"l","t":"1.1754","v":1.1754,"d":"2016-08-20"}],
"tagTop":[{"t":"1.1856","v":1.1856,"d":"2016-08-20"}],
"stoLv":[{"lv":"ob","v":70},{"lv":"os","v":30}],
"sto":[
{"d":"2010-02-09","sd":7,"k":5},
{"d":"2010-03-12","sd":10,"k":12},
{"d":"2010-05-15","sd":8,"k":6},
{"d":"2010-06-07","sd":5,"k":3},
{"d":"2010-06-26","sd":17,"k":35},
{"d":"2010-07-17","sd":48,"k":60},
{"d":"2010-08-18","sd":58,"k":48},
{"d":"2010-09-10","sd":50,"k":62},
{"d":"2010-10-04","sd":82,"k":98},
{"d":"2010-10-20","sd":95,"k":100},
{"d":"2010-11-13","sd":95,"k":85},
{"d":"2010-12-07","sd":73,"k":50},
{"d":"2010-12-30","sd":37,"k":25},
{"d":"2011-01-14","sd":32,"k":40},
{"d":"2011-02-23","sd":53,"k":65},
{"d":"2011-03-26","sd":75,"k":85},
{"d":"2011-04-28","sd":95,"k":100},
{"d":"2011-05-29","sd":75,"k":60},
{"d":"2011-06-29","sd":62,"k":55},
{"d":"2011-08-15","sd":48,"k":40},
{"d":"2011-09-17","sd":28,"k":10},
{"d":"2011-10-11","sd":15,"k":8},
{"d":"2011-11-10","sd":48,"k":60},
{"d":"2011-12-11","sd":25,"k":5},
{"d":"2012-01-13","sd":5,"k":3},
{"d":"2012-02-20","sd":33,"k":45},
{"d":"2012-04-08","sd":40,"k":50},
{"d":"2012-05-11","sd":62,"k":55},
{"d":"2012-06-11","sd":25,"k":5},
{"d":"2012-07-05","sd":20,"k":10},
{"d":"2012-08-04","sd":12,"k":5},
{"d":"2012-09-13","sd":42,"k":55},
{"d":"2012-10-07","sd":82,"k":95},
{"d":"2012-11-16","sd":78,"k":70},
{"d":"2012-12-24","sd":87,"k":97},
{"d":"2013-02-02","sd":93,"k":98},
{"d":"2013-03-05","sd":65,"k":50},
{"d":"2013-03-28","sd":32,"k":15},
{"d":"2013-05-08","sd":32,"k":40},
{"d":"2013-06-05","sd":23,"k":10},
{"d":"2013-06-29","sd":40,"k":55},
{"d":"2013-07-23","sd":40,"k":30},
{"d":"2013-08-15","sd":82,"k":95},
{"d":"2013-09-15","sd":78,"k":70},
{"d":"2013-10-25","sd":95,"k":100},
{"d":"2013-12-05","sd":67,"k":55},
{"d":"2013-12-29","sd":78,"k":88},
{"d":"2014-01-21","sd":73,"k":65},
{"d":"2014-02-14","sd":57,"k":45},
{"d":"2014-03-17","sd":82,"k":95},
{"d":"2014-04-17","sd":70,"k":68},
{"d":"2014-05-11","sd":67,"k":60},
{"d":"2014-06-13","sd":25,"k":10},
{"d":"2014-07-14","sd":20,"k":22},
{"d":"2014-08-06","sd":8,"k":2},
{"d":"2014-09-23","sd":3,"k":5},
{"d":"2014-10-24","sd":10,"k":14},
{"d":"2014-11-26","sd":7,"k":3},
{"d":"2015-01-09","sd":2,"k":0.94}],
"stoTag":[{"t":"0.9367","v":0.9367,"d":"2016-08-20"}],
"yearSep":[{"d":"2011-01-01"},{"d":"2012-01-01"},{"d":"2013-01-01"},{"d":"2014-01-01"},{"d":"2015-01-01"},{"d":"2016-01-01"}],
"years":[{"yr":"2010","d":"2010-07-19"},{"yr":"2011","d":"2011-07-02"},{"yr":"2012","d":"2012-07-02"},{"yr":"2013","d":"2013-07-02"},{"yr":"2014","d":"2014-07-02"},{"yr":"2015","d":"2015-07-02"},{"yr":"2016","d":"2016-04-08"}],
"footL":[{"t":"EURUSD Curncy (EUR-USD X-RATE) AT_EURUSD_W  Weekly 23DEC2012-23DEC2014","d":"2010-02-10"},{"t":"Copyright© 2015 Bloomberg Finance L.P.","d":"2013-08-24"}],
"footR":[{"t":"07-Jan-2015 07:46:07","d":"2016-09-26"}]
},
"vconcat":[
{
"width":988,"height":352,
"resolve":{"scale":{"stroke":"independent","fill":"independent","color":"independent"}},
"layer":[
{"data":{"name":"ygrid"},"mark":{"type":"rule","strokeDash":[1,2],"color":"#a6a6a6","strokeWidth":1},
"encoding":{
"y":{"field":"v","type":"quantitative","scale":{"domain":[1.0428,1.4656],"zero":false,"nice":false},"axis":null}}},
{"data":{"name":"xgrid"},"mark":{"type":"rule","strokeDash":[1,2],"color":"#a6a6a6","strokeWidth":1},
"encoding":{
"x":{"field":"d","type":"temporal","scale":{"domain":[{"year":2010,"month":2,"date":9},{"year":2016,"month":7,"date":9}]},
"axis":{"orient":"bottom","title":null,"labels":false,"ticks":false,"grid":false,"domain":true,"domainColor":"#909090","domainWidth":2}}}},
{"data":{"name":"levels"},"mark":{"type":"rule","clip":true},
"encoding":{
"x":{"field":"d","type":"temporal","scale":{"domain":[{"year":2010,"month":2,"date":9},{"year":2016,"month":7,"date":9}]},"axis":null},
"x2":{"field":"d2"},
"y":{"field":"p","type":"quantitative","scale":{"domain":[1.0428,1.4656],"zero":false,"nice":false},"axis":null},
"stroke":{"field":"lv","type":"nominal","scale":{"domain":["fib236","fib382","g1266","fib500","low2012","low2010","r1165","fib618"],"range":["#c4c4c4","#8fe08f","#8fe08f","#8ee3e8","#d42a2a","#d9503e","#a82222","#8fe08f"]},"legend":null},
"strokeWidth":{"condition":{"test":"datum.lv=='low2010'","value":2.6},"value":1.5}}},
{"data":{"name":"fibtxt"},"mark":{"type":"text","align":"left","baseline":"bottom","dy":-1,"fontSize":9},
"encoding":{
"x":{"field":"d","type":"temporal","scale":{"domain":[{"year":2010,"month":2,"date":9},{"year":2016,"month":7,"date":9}]},"axis":null},
"y":{"field":"p","type":"quantitative","scale":{"domain":[1.0428,1.4656],"zero":false,"nice":false},"axis":null},
"text":{"field":"t"},
"fill":{"field":"lv","type":"nominal","scale":{"domain":["fib236","fib382","fib500","fib618"],"range":["#a0a0a0","#6cc86c","#66cccf","#6cc86c"]},"legend":null}}},
{"data":{"name":"px"},"mark":{"type":"rule","clip":true,"strokeWidth":0.8},
"encoding":{
"x":{"field":"d","type":"temporal","scale":{"domain":[{"year":2010,"month":2,"date":9},{"year":2016,"month":7,"date":9}]},"axis":null},
"y":{"field":"l","type":"quantitative","scale":{"domain":[1.0428,1.4656],"zero":false,"nice":false},"axis":null},
"y2":{"field":"h"},
"color":{"condition":{"test":"datum.c >= datum.o","value":"#8a8a8a"},"value":"#202020"}}},
{"data":{"name":"px"},"mark":{"type":"bar","clip":true,"size":2.4},
"encoding":{
"x":{"field":"d","type":"temporal","scale":{"domain":[{"year":2010,"month":2,"date":9},{"year":2016,"month":7,"date":9}]},"axis":null},
"y":{"field":"o","type":"quantitative","scale":{"domain":[1.0428,1.4656],"zero":false,"nice":false},"axis":null},
"y2":{"field":"c"},
"color":{"condition":{"test":"datum.c >= datum.o","value":"#b0b0b0"},"value":"#121212"}}},
{"data":{"name":"ind"},"mark":{"type":"line","clip":true,"interpolate":"monotone","strokeDash":[5,3],"strokeWidth":1.2,"color":"#7b2d2d"},
"encoding":{
"x":{"field":"d","type":"temporal","scale":{"domain":[{"year":2010,"month":2,"date":9},{"year":2016,"month":7,"date":9}]},"axis":null},
"y":{"field":"u","type":"quantitative","scale":{"domain":[1.0428,1.4656],"zero":false,"nice":false},"axis":null}}},
{"data":{"name":"ind"},"mark":{"type":"line","clip":true,"interpolate":"monotone","strokeDash":[5,3],"strokeWidth":1.2,"color":"#7b2d2d"},
"encoding":{
"x":{"field":"d","type":"temporal","scale":{"domain":[{"year":2010,"month":2,"date":9},{"year":2016,"month":7,"date":9}]},"axis":null},
"y":{"field":"l","type":"quantitative","scale":{"domain":[1.0428,1.4656],"zero":false,"nice":false},"axis":null}}},
{"data":{"name":"ind"},"mark":{"type":"line","clip":true,"interpolate":"monotone","strokeWidth":1,"color":"#5080b2"},
"encoding":{
"x":{"field":"d","type":"temporal","scale":{"domain":[{"year":2010,"month":2,"date":9},{"year":2016,"month":7,"date":9}]},"axis":null},
"y":{"field":"f","type":"quantitative","scale":{"domain":[1.0428,1.4656],"zero":false,"nice":false},"axis":null}}},
{"data":{"name":"ind"},"mark":{"type":"line","clip":true,"interpolate":"monotone","strokeWidth":3,"strokeDash":[7,4],"color":"#1d31c8"},
"encoding":{
"x":{"field":"d","type":"temporal","scale":{"domain":[{"year":2010,"month":2,"date":9},{"year":2016,"month":7,"date":9}]},"axis":null},
"y":{"field":"s","type":"quantitative","scale":{"domain":[1.0428,1.4656],"zero":false,"nice":false},"axis":null}}},
{"data":{"name":"ind"},"mark":{"type":"line","clip":true,"interpolate":"monotone","strokeWidth":2,"color":"#8c1c24"},
"encoding":{
"x":{"field":"d","type":"temporal","scale":{"domain":[{"year":2010,"month":2,"date":9},{"year":2016,"month":7,"date":9}]},"axis":null},
"y":{"field":"m","type":"quantitative","scale":{"domain":[1.0428,1.4656],"zero":false,"nice":false},"axis":null}}},
{"data":{"name":"trend"},"mark":{"type":"line","clip":true,"color":"#3ad43a"},
"encoding":{
"x":{"field":"d","type":"temporal","scale":{"domain":[{"year":2010,"month":2,"date":9},{"year":2016,"month":7,"date":9}]},"axis":null},
"y":{"field":"p","type":"quantitative","scale":{"domain":[1.0428,1.4656],"zero":false,"nice":false},"axis":null},
"detail":{"field":"id"},
"strokeWidth":{"condition":{"test":"datum.id=='up'","value":2.5},"value":1.8}}},
{"data":{"name":"title"},"mark":{"type":"text","font":"Liberation Sans","fontSize":18,"color":"#cc1f1f","align":"center","baseline":"middle"},
"encoding":{
"x":{"field":"d","type":"temporal","scale":{"domain":[{"year":2010,"month":2,"date":9},{"year":2016,"month":7,"date":9}]},"axis":null},
"y":{"field":"p","type":"quantitative","scale":{"domain":[1.0428,1.4656],"zero":false,"nice":false},"axis":null},
"text":{"field":"t"}}},
{"data":{"name":"axisEnd"},"mark":{"type":"rule","color":"#444444","strokeWidth":1.5},
"encoding":{
"x":{"field":"d","type":"temporal","scale":{"domain":[{"year":2010,"month":2,"date":9},{"year":2016,"month":7,"date":9}]},"axis":null}}},
{"data":{"name":"ygrid"},"mark":{"type":"rule","color":"#333333","strokeWidth":1},
"encoding":{
"x":{"datum":{"year":2016,"month":7,"date":9},"type":"temporal","scale":{"domain":[{"year":2010,"month":2,"date":9},{"year":2016,"month":7,"date":9}]},"axis":null},
"x2":{"datum":{"year":2016,"month":7,"date":19}},
"y":{"field":"v","type":"quantitative","scale":{"domain":[1.0428,1.4656],"zero":false,"nice":false},"axis":null}}},
{"data":{"name":"yminor"},"mark":{"type":"rule","color":"#555555","strokeWidth":1},
"encoding":{
"x":{"datum":{"year":2016,"month":7,"date":9},"type":"temporal","scale":{"domain":[{"year":2010,"month":2,"date":9},{"year":2016,"month":7,"date":9}]},"axis":null},
"x2":{"datum":{"year":2016,"month":7,"date":15}},
"y":{"field":"v","type":"quantitative","scale":{"domain":[1.0428,1.4656],"zero":false,"nice":false},"axis":null}}},
{"data":{"name":"ygrid"},"mark":{"type":"text","align":"left","baseline":"middle","fontSize":9.5,"color":"#555555"},
"encoding":{
"x":{"datum":{"year":2016,"month":7,"date":23},"type":"temporal","scale":{"domain":[{"year":2010,"month":2,"date":9},{"year":2016,"month":7,"date":9}]},"axis":null},
"y":{"field":"v","type":"quantitative","scale":{"domain":[1.0428,1.4656],"zero":false,"nice":false},"axis":null},
"text":{"field":"t"}}},
{"data":{"name":"tags"},"mark":{"type":"point","shape":"M-1,0L-0.78,-0.29L1,-0.29L1,0.29L-0.78,0.29Z","size":1225,"filled":true,"opacity":1,"strokeWidth":0},
"encoding":{
"x":{"field":"d","type":"temporal","scale":{"domain":[{"year":2010,"month":2,"date":9},{"year":2016,"month":7,"date":9}]},"axis":null},
"y":{"field":"v","type":"quantitative","scale":{"domain":[1.0428,1.4656],"zero":false,"nice":false},"axis":null},
"fill":{"field":"k","type":"nominal","scale":{"domain":["u","s","m","f","fib","l"],"range":["#9e1b2e","#1a1ae0","#9e1b2e","#1f5ea8","#3d9df0","#9e1b2e"]},"legend":null}}},
{"data":{"name":"tags"},"mark":{"type":"text","color":"white","fontSize":9.5,"dx":2,"align":"center","baseline":"middle"},
"encoding":{
"x":{"field":"d","type":"temporal","scale":{"domain":[{"year":2010,"month":2,"date":9},{"year":2016,"month":7,"date":9}]},"axis":null},
"y":{"field":"v","type":"quantitative","scale":{"domain":[1.0428,1.4656],"zero":false,"nice":false},"axis":null},
"text":{"field":"t"}}},
{"data":{"name":"tagTop"},"mark":{"type":"point","shape":"M-1,0L-0.78,-0.29L1,-0.29L1,0.29L-0.78,0.29Z","size":1225,"filled":true,"opacity":1,"strokeWidth":0,"color":"#0a0a0a"},
"encoding":{
"x":{"field":"d","type":"temporal","scale":{"domain":[{"year":2010,"month":2,"date":9},{"year":2016,"month":7,"date":9}]},"axis":null},
"y":{"field":"v","type":"quantitative","scale":{"domain":[1.0428,1.4656],"zero":false,"nice":false},"axis":null}}},
{"data":{"name":"tagTop"},"mark":{"type":"text","color":"white","fontSize":9.5,"dx":2,"align":"center","baseline":"middle"},
"encoding":{
"x":{"field":"d","type":"temporal","scale":{"domain":[{"year":2010,"month":2,"date":9},{"year":2016,"month":7,"date":9}]},"axis":null},
"y":{"field":"v","type":"quantitative","scale":{"domain":[1.0428,1.4656],"zero":false,"nice":false},"axis":null},
"text":{"field":"t"}}}
]},
{
"width":988,"height":72,
"resolve":{"axis":{"x":"independent"},"scale":{"stroke":"independent"}},
"layer":[
{"data":{"name":"sgrid"},"mark":{"type":"rule","strokeDash":[1,2],"color":"#a6a6a6","strokeWidth":1},
"encoding":{
"y":{"field":"v","type":"quantitative","scale":{"domain":[-13.3,108.3],"zero":false,"nice":false},"axis":null}}},
{"data":{"name":"xgrid"},"mark":{"type":"rule","strokeDash":[1,2],"color":"#a6a6a6","strokeWidth":1},
"encoding":{
"x":{"field":"d","type":"temporal","scale":{"domain":[{"year":2010,"month":2,"date":9},{"year":2016,"month":7,"date":9}]},
"axis":{"orient":"top","title":null,"labels":false,"ticks":false,"grid":false,"domain":true,"domainColor":"#909090","domainWidth":2}}}},
{"data":{"name":"stoLv"},"mark":{"type":"rule","strokeWidth":1.5},
"encoding":{
"y":{"field":"v","type":"quantitative","scale":{"domain":[-13.3,108.3],"zero":false,"nice":false},"axis":null},
"stroke":{"field":"lv","type":"nominal","scale":{"domain":["ob","os"],"range":["#cf6b6b","#7ad67a"]},"legend":null}}},
{"data":{"name":"sto"},"mark":{"type":"area","clip":true,"interpolate":"monotone","color":"#f6a77a","opacity":0.55},
"encoding":{
"x":{"field":"d","type":"temporal","scale":{"domain":[{"year":2010,"month":2,"date":9},{"year":2016,"month":7,"date":9}]},"axis":null},
"y":{"field":"k","type":"quantitative","scale":{"domain":[-13.3,108.3],"zero":false,"nice":false},"axis":null},
"y2":{"field":"sd"}}},
{"data":{"name":"sto"},"mark":{"type":"line","clip":true,"interpolate":"monotone","color":"#c9c9c9","strokeWidth":1},
"encoding":{
"x":{"field":"d","type":"temporal","scale":{"domain":[{"year":2010,"month":2,"date":9},{"year":2016,"month":7,"date":9}]},
"axis":{"orient":"bottom","title":null,"labels":false,"ticks":true,"tickSize":4,"tickColor":"#444444","domainColor":"#555555","domainWidth":2,"grid":false,"tickCount":77}},
"y":{"field":"k","type":"quantitative","scale":{"domain":[-13.3,108.3],"zero":false,"nice":false},"axis":null}}},
{"data":{"name":"sto"},"mark":{"type":"line","clip":true,"interpolate":"monotone","color":"#f0a050","strokeWidth":1.5},
"encoding":{
"x":{"field":"d","type":"temporal","scale":{"domain":[{"year":2010,"month":2,"date":9},{"year":2016,"month":7,"date":9}]},"axis":null},
"y":{"field":"sd","type":"quantitative","scale":{"domain":[-13.3,108.3],"zero":false,"nice":false},"axis":null}}},
{"data":{"name":"axisEnd"},"mark":{"type":"rule","color":"#444444","strokeWidth":1.5},
"encoding":{
"x":{"field":"d","type":"temporal","scale":{"domain":[{"year":2010,"month":2,"date":9},{"year":2016,"month":7,"date":9}]},"axis":null}}},
{"data":{"name":"sgrid"},"mark":{"type":"rule","color":"#333333","strokeWidth":1},
"encoding":{
"x":{"datum":{"year":2016,"month":7,"date":9},"type":"temporal","scale":{"domain":[{"year":2010,"month":2,"date":9},{"year":2016,"month":7,"date":9}]},"axis":null},
"x2":{"datum":{"year":2016,"month":7,"date":19}},
"y":{"field":"v","type":"quantitative","scale":{"domain":[-13.3,108.3],"zero":false,"nice":false},"axis":null}}},
{"data":{"name":"sminor"},"mark":{"type":"rule","color":"#555555","strokeWidth":1},
"encoding":{
"x":{"datum":{"year":2016,"month":7,"date":9},"type":"temporal","scale":{"domain":[{"year":2010,"month":2,"date":9},{"year":2016,"month":7,"date":9}]},"axis":null},
"x2":{"datum":{"year":2016,"month":7,"date":15}},
"y":{"field":"v","type":"quantitative","scale":{"domain":[-13.3,108.3],"zero":false,"nice":false},"axis":null}}},
{"data":{"name":"slab"},"mark":{"type":"text","align":"left","baseline":"middle","fontSize":9.5,"color":"#555555"},
"encoding":{
"x":{"datum":{"year":2016,"month":7,"date":23},"type":"temporal","scale":{"domain":[{"year":2010,"month":2,"date":9},{"year":2016,"month":7,"date":9}]},"axis":null},
"y":{"field":"v","type":"quantitative","scale":{"domain":[-13.3,108.3],"zero":false,"nice":false},"axis":null},
"text":{"field":"t"}}},
{"data":{"name":"stoTag"},"mark":{"type":"point","shape":"M-1,0L-0.78,-0.29L1,-0.29L1,0.29L-0.78,0.29Z","size":1225,"filled":true,"opacity":1,"fill":"white","stroke":"#b87333","strokeWidth":1},
"encoding":{
"x":{"field":"d","type":"temporal","scale":{"domain":[{"year":2010,"month":2,"date":9},{"year":2016,"month":7,"date":9}]},"axis":null},
"y":{"field":"v","type":"quantitative","scale":{"domain":[-13.3,108.3],"zero":false,"nice":false},"axis":null}}},
{"data":{"name":"stoTag"},"mark":{"type":"text","color":"#222222","fontSize":9.5,"dx":2,"align":"center","baseline":"middle"},
"encoding":{
"x":{"field":"d","type":"temporal","scale":{"domain":[{"year":2010,"month":2,"date":9},{"year":2016,"month":7,"date":9}]},"axis":null},
"y":{"field":"v","type":"quantitative","scale":{"domain":[-13.3,108.3],"zero":false,"nice":false},"axis":null},
"text":{"field":"t"}}}
]},
{
"width":988,"height":26,
"layer":[
{"data":{"name":"yearSep"},"mark":{"type":"rule","color":"#8a8a8a","strokeWidth":1},
"encoding":{
"x":{"field":"d","type":"temporal","scale":{"domain":[{"year":2010,"month":2,"date":9},{"year":2016,"month":7,"date":9}]},"axis":null},
"y":{"datum":0.46,"type":"quantitative","scale":{"domain":[0,1]},"axis":null},
"y2":{"datum":0.92}}},
{"data":{"name":"years"},"mark":{"type":"text","fontSize":10,"color":"#444444","align":"center","baseline":"middle"},
"encoding":{
"x":{"field":"d","type":"temporal","scale":{"domain":[{"year":2010,"month":2,"date":9},{"year":2016,"month":7,"date":9}]},"axis":null},
"y":{"datum":0.62,"type":"quantitative","scale":{"domain":[0,1]},"axis":null},
"text":{"field":"yr"}}},
{"data":{"name":"footL"},"mark":{"type":"text","fontSize":8,"color":"#333333","align":"left","baseline":"middle"},
"encoding":{
"x":{"field":"d","type":"temporal","scale":{"domain":[{"year":2010,"month":2,"date":9},{"year":2016,"month":7,"date":9}]},"axis":null},
"y":{"datum":0.2,"type":"quantitative","scale":{"domain":[0,1]},"axis":null},
"text":{"field":"t"}}},
{"data":{"name":"footR"},"mark":{"type":"text","fontSize":8,"color":"#333333","align":"right","baseline":"middle"},
"encoding":{
"x":{"field":"d","type":"temporal","scale":{"domain":[{"year":2010,"month":2,"date":9},{"year":2016,"month":7,"date":9}]},"axis":null},
"y":{"datum":0.2,"type":"quantitative","scale":{"domain":[0,1]},"axis":null},
"text":{"field":"t"}}}
]}
]
}
